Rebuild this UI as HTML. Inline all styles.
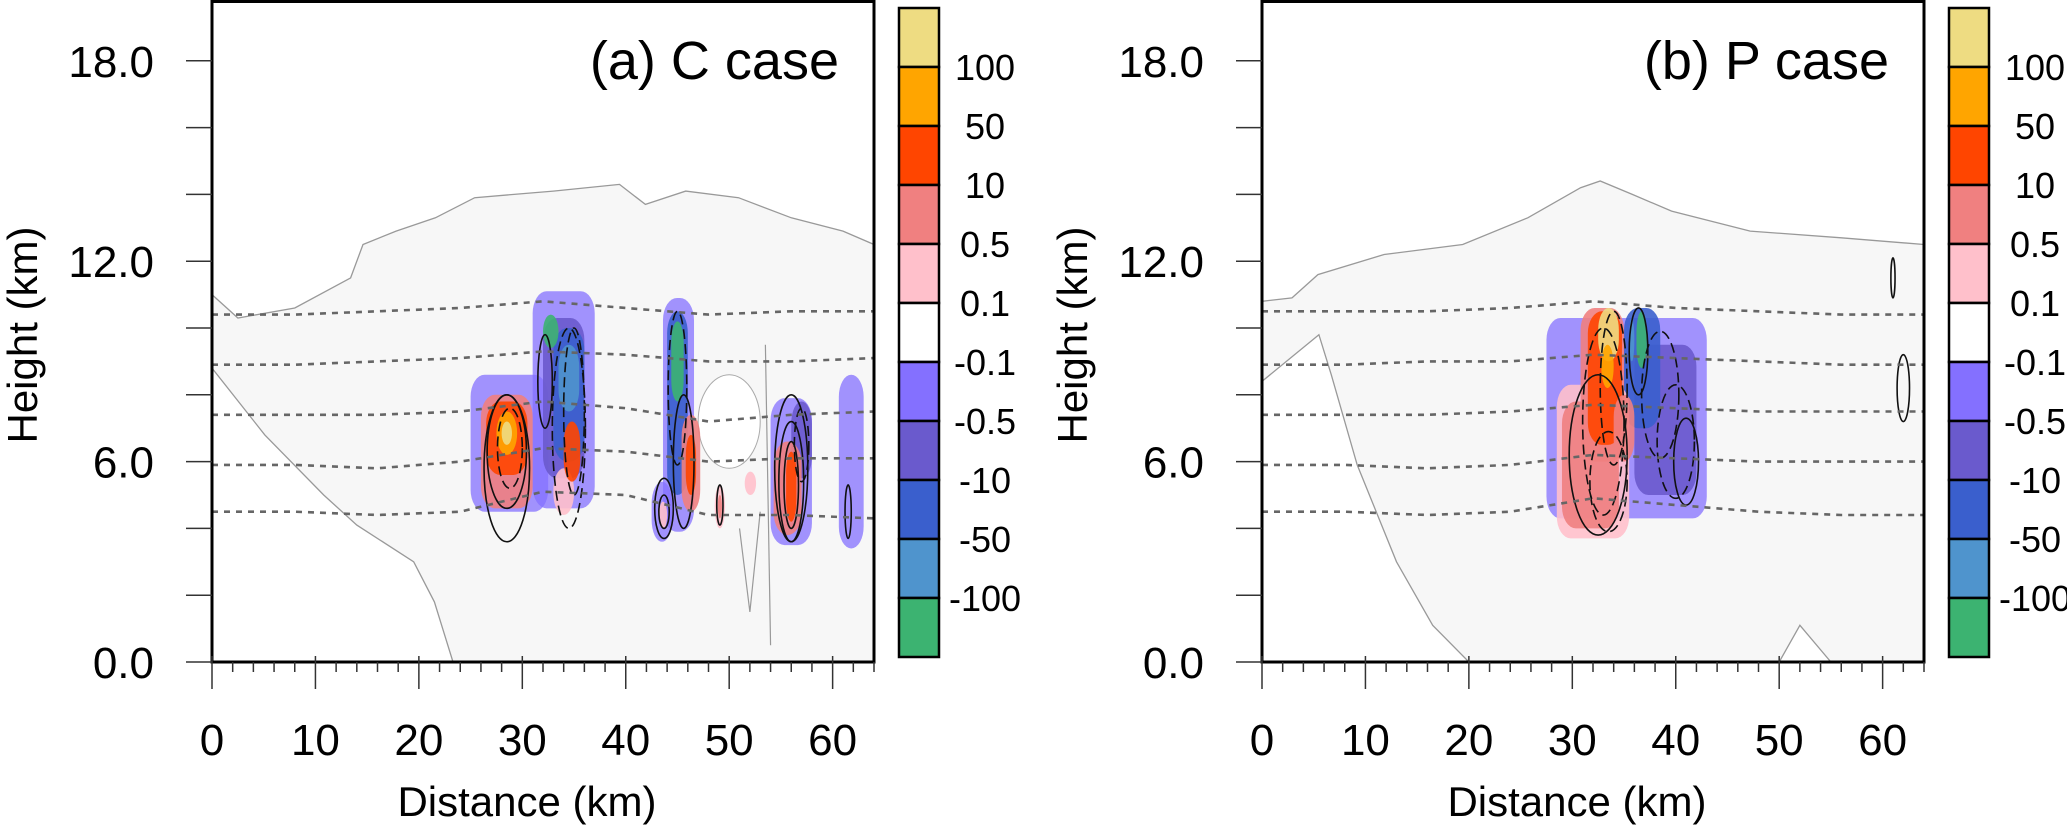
<!DOCTYPE html>
<html><head><meta charset="utf-8"><style>
html,body{margin:0;padding:0;background:#fff}
svg{display:block;font-family:"Liberation Sans",sans-serif}
</style></head><body>
<svg id="fig" width="2067" height="827" viewBox="0 0 2067 827" xmlns="http://www.w3.org/2000/svg"></svg>
<script>
// ---- data ----
const levelColors = ["#eedc82","#ffa500","#ff4500","#f08080","#ffc0cb","#ffffff","#8470ff","#6a5acd","#3a5fcd","#4f94cd","#3cb371"];
const levelLabels = ["100","50","10","0.5","0.1","-0.1","-0.5","-10","-50","-100"];
const xTicks = [0,10,20,30,40,50,60];
const yTicks = [0,6,12,18];
const isoDist = [0,8,16,24,32,40,48,56,64];
const isoA = [
 [10.4,10.4,10.5,10.6,10.8,10.6,10.4,10.5,10.5],
 [8.9,8.9,9.0,9.1,9.3,9.2,9.0,9.0,9.1],
 [7.4,7.4,7.4,7.5,7.8,7.6,7.2,7.4,7.5],
 [5.9,5.9,5.8,6.0,6.4,6.3,6.0,6.1,6.1],
 [4.5,4.5,4.4,4.5,5.1,5.0,4.4,4.4,4.3]];
const isoB = [
 [10.5,10.5,10.5,10.6,10.8,10.6,10.5,10.4,10.4],
 [8.9,8.9,9.0,9.0,9.2,9.1,9.0,8.9,8.9],
 [7.4,7.4,7.4,7.5,7.7,7.6,7.5,7.5,7.5],
 [5.9,5.9,5.8,5.9,6.2,6.1,6.0,6.0,6.0],
 [4.5,4.5,4.4,4.5,4.9,4.7,4.5,4.4,4.4]];
const cloudA = [[0,11.0],[2.5,10.3],[8,10.6],[13.4,11.5],[14.6,12.5],[17.8,12.9],[21.6,13.3],[25.4,13.9],[33,14.1],[39.4,14.3],[41.9,13.7],[45.8,14.1],[50.9,13.9],[56,13.3],[61,12.9],[64,12.5],[64,0],[23.3,0],[21.5,1.8],[19.5,3.0],[14,4.1],[10.8,5.0],[5.1,6.8],[0,8.8]];
const cloudB = [[0,10.8],[2.9,10.9],[5.4,11.6],[11.8,12.2],[19.4,12.5],[25.7,13.3],[30.8,14.2],[32.7,14.4],[35.8,14.0],[39.6,13.5],[47.2,12.9],[56,12.7],[64,12.5],[64,0],[55,0],[52,1.1],[50,0],[20,0],[16.5,1.1],[13,3.0],[9.2,5.9],[6.7,8.6],[5.5,9.8],[0,8.4]];
const blobsA = [
 [25,32.5,4.5,8.6,6],[31,37,4.6,11.1,6],[32,36,5.5,10.3,7],[33,36,6,10,8],[32,33.5,9.4,10.4,10],[33.5,35.5,7.5,9.5,9],
 [26,31,4.6,8,3],[26.5,30.5,5.6,7.8,2],[27.5,29.5,6.2,7.5,1],[28,29,6.5,7.2,0],
 [33,35,4.4,5.8,4],[34,35.6,5.4,7.2,2],
 [43.6,46.6,3.9,10.9,6],[44,46,5,10.5,8],[44.4,45.6,7.8,10.2,10],[45.4,47.2,4.5,7.4,3],[45.8,46.8,5,6.8,2],
 [42.5,44.5,3.6,5.4,6],[43.2,44,4,4.8,4],[48.6,49.6,4,5.3,4],[48.9,49.3,4.3,5,3],[51.5,52.6,5.0,5.7,4],
 [54,58,3.5,7.9,6],[56,58,5.5,7.8,7],[54.3,57,3.8,6.6,3],[55.5,56.5,4.2,6.3,2],
 [60.6,63,3.4,8.6,6]];
const blobsB = [
 [27.5,43,4.3,10.3,6],[36,42,5,9.5,7],[35,38.5,7,10.6,8],[36.2,37.2,8.8,10.5,10],[35.5,36,9,10.3,9],
 [28.5,35.5,3.7,8.3,4],[29,34.5,4,7.8,3],[30.8,35,6,10.6,3],[31.5,34.8,6.5,10.5,2],[32.5,34.5,9,10.6,0],[32.8,34,8.2,9.5,1],
 [34,36,6,8,3]];
const contA = [[28.5,6.3,1.9,1.7,0],[28.8,6.4,1.2,1.2,1],[28.5,5.8,2.2,2.2,0],[34.5,7.0,1.6,3.0,1],[35,7.5,1.0,2.5,1],[32.2,8.4,0.7,1.4,0],
 [45,8.2,0.9,2.3,1],[45.6,6.0,1.0,2.0,0],[43.7,4.6,0.9,0.9,0],[43.7,4.5,0.5,0.5,0],[49.1,4.7,0.3,0.6,0],[56,5.4,1.2,1.8,0],[56,5.3,0.7,1.3,0],[57,6.5,0.7,1.1,1],[61.5,4.5,0.3,0.8,0],[56,5.8,1.6,2.2,0]];
const contB = [[33,7.2,2.0,2.8,1],[32.5,6.2,2.8,2.4,0],[34,8.2,1.3,2.3,1],[36.4,9.3,0.9,1.3,0],[38.5,8.0,1.8,1.9,1],[40,6.6,1.8,1.7,1],[41,6.0,1.2,1.3,0],[33.5,5.4,1.8,1.5,1],[61,11.5,0.2,0.6,0],[62,8.2,0.6,1.0,0]];

// ---- drawing ----
const NS="http://www.w3.org/2000/svg";
const svg=document.getElementById('fig');
function mk(tag,attrs,parent){const e=document.createElementNS(NS,tag);for(const k in attrs)e.setAttribute(k,attrs[k]);(parent||svg).appendChild(e);return e;}
const PW=662, KX=PW/64, KY=33.4;

function panel(off, title, cloud, iso, blobs, conts, tag){
  const L=212+off, T=0, B=662;
  const X=k=>L+k*KX, Y=k=>B-k*KY;
  const g=mk('g',{});
  
  
  const clipId='clip'+tag;
  const cp=mk('clipPath',{id:clipId},g); mk('rect',{x:L,y:T,width:PW,height:B-T},cp);
  const plot=mk('g',{'clip-path':'url(#'+clipId+')'},g);
  
  
  const cl=mk('path',{d:'M'+cloud.map(p=>X(p[0]).toFixed(1)+','+Y(p[1]).toFixed(1)).join('L')+'Z',fill:'#f7f7f7',stroke:'#999','stroke-width':1.3},plot);
  
  
  if(tag==='a'){
    const w=mk('ellipse',{cx:X(50),cy:Y(7.2),rx:3*KX,ry:1.4*KY,fill:'#fff',stroke:'#aaa','stroke-width':1},plot);
    
    
    const vl=mk('path',{d:`M${X(53.5)},${Y(9.5)}L${X(54)},${Y(0.5)}M${X(51)},${Y(4)}L${X(52)},${Y(1.5)}L${X(53)},${Y(4.5)}`,fill:'none',stroke:'#999','stroke-width':1.2},plot);
    
    
  }
  blobs.forEach(b=>{
    const r=mk('rect',{x:X(b[0]),y:Y(b[3]),width:(b[1]-b[0])*KX,height:(b[3]-b[2])*KY,rx:Math.min(14,(b[1]-b[0])*KX/2),ry:Math.min(22,(b[3]-b[2])*KY/2),fill:levelColors[b[4]],opacity:b[4]===6?0.75:0.9},plot);
    
    
  });
  conts.forEach(c=>{
    const e=mk('ellipse',{cx:X(c[0]),cy:Y(c[1]),rx:c[2]*KX,ry:c[3]*KY,fill:'none',stroke:'#111','stroke-width':1.6},plot);
    if(c[4]) e.setAttribute('stroke-dasharray','10 5');
    
    
  });
  iso.forEach(line=>{
    const p=mk('path',{d:'M'+line.map((h,i)=>X(isoDist[i]).toFixed(1)+','+Y(h).toFixed(1)).join('L'),fill:'none',stroke:'#666','stroke-width':2.6,'stroke-dasharray':'6 6'},plot);
    
    
  });
  const fr=mk('rect',{x:L,y:T+1.5,width:PW,height:B-T-1.5,fill:'none',stroke:'#000','stroke-width':3},g);
  
  
  for(let k=0;k<=64;k+=2){
    const maj=k%10===0;
    mk('line',{x1:X(k),x2:X(k),y1:maj?B-6:B,y2:maj?B+27:B+10,stroke:'#333','stroke-width':1.5},g);
  }
  xTicks.forEach(v=>{
    const t=mk('text',{x:X(v),y:755,'font-size':44,'text-anchor':'middle'},g);t.textContent=v;
    
    
  });
  for(let k=0;k<=18;k+=2){ mk('line',{x1:L-26,x2:L,y1:Y(k),y2:Y(k),stroke:'#333','stroke-width':1.5},g); }
  yTicks.forEach(v=>{
    const t=mk('text',{x:L-58,y:Y(v)+16,'font-size':44,'text-anchor':'end'},g);t.textContent=v.toFixed(1);
    
    
  });
  const xt=mk('text',{x:L+315,y:816,'font-size':42,'text-anchor':'middle'},g);xt.textContent='Distance (km)';
  
  
  const yt=mk('text',{x:0,y:0,'font-size':42,'text-anchor':'middle',transform:`translate(${off+37},335) rotate(-90)`},g);yt.textContent='Height (km)';
  
  
  const tt=mk('text',{x:L+627,y:79,'font-size':54,'text-anchor':'end'},g);tt.textContent=title;
  
  
  const cb=mk('g',{},g);
  
  
  const cx=899+off, ct=8, bh=649/levelColors.length;
  levelColors.forEach((c,i)=>{
    const r=mk('rect',{x:cx,y:ct+i*bh,width:40,height:bh,fill:c,stroke:'#000','stroke-width':2.5},cb);
    
    
  });
  levelLabels.forEach((s,i)=>{
    const t=mk('text',{x:cx+86,y:ct+(i+1)*bh+13,'font-size':36,'text-anchor':'middle'},cb);t.textContent=s;
    
    
  });
}
panel(0,'(a) C case',cloudA,isoA,blobsA,contA,'a');
panel(1050,'(b) P case',cloudB,isoB,blobsB,contB,'b');
</script>
</body></html>
